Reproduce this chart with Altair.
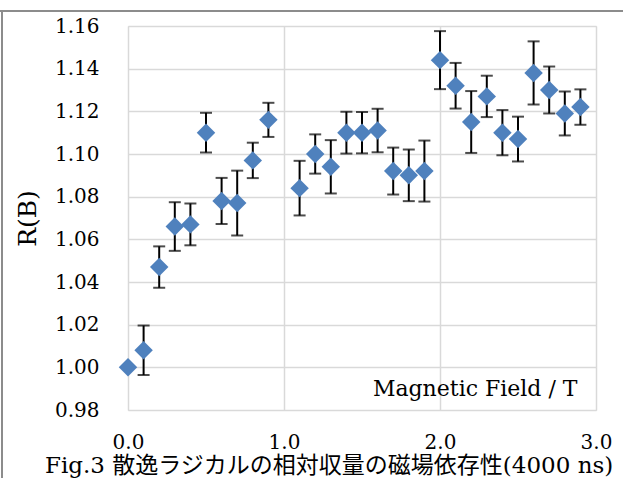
import altair as alt
import pandas as pd

# Magnetic field (T), relative yield R(B) and its uncertainty
field = [0.0, 0.1, 0.2, 0.3, 0.4, 0.5, 0.6, 0.7, 0.8, 0.9,
         1.1, 1.2, 1.3, 1.4, 1.5, 1.6, 1.7, 1.8, 1.9,
         2.0, 2.1, 2.2, 2.3, 2.4, 2.5, 2.6, 2.7, 2.8, 2.9]
ratio = [1.000, 1.008, 1.047, 1.066, 1.067, 1.110, 1.078, 1.077, 1.097, 1.116,
         1.084, 1.100, 1.094, 1.110, 1.110, 1.111, 1.092, 1.090, 1.092,
         1.144, 1.132, 1.115, 1.127, 1.110, 1.107, 1.138, 1.130, 1.119, 1.122]
error = [0.000, 0.0116, 0.0097, 0.0114, 0.0098, 0.0093, 0.0108, 0.0152, 0.0083, 0.0080,
         0.0128, 0.0092, 0.0125, 0.0098, 0.0097, 0.0102, 0.0110, 0.0121, 0.0143,
         0.0136, 0.0107, 0.0145, 0.0097, 0.0106, 0.0105, 0.0148, 0.0110, 0.0103, 0.0083]

y_ticks = [0.98, 1.00, 1.02, 1.04, 1.06, 1.08, 1.10, 1.12, 1.14, 1.16]
x_ticks = [0.0, 1.0, 2.0, 3.0]

caption = "Fig.3 散逸ラジカルの相対収量の磁場依存性(4000 ns)"
serif = "DejaVu Serif, Liberation Serif, Noto Sans CJK JP"

df = pd.DataFrame({"B": field, "R": ratio, "err": error})
df["lo"] = df["R"] - df["err"]
df["hi"] = df["R"] + df["err"]

x_enc = alt.X(
    "B:Q",
    scale=alt.Scale(domain=[0, 3], nice=False),
    axis=alt.Axis(
        values=x_ticks, format=".1f", title="Magnetic Field / T",
        labelFont=serif, labelFontSize=20, labelColor="black", labelPadding=22,
        labelFlush=False,
        titleFont=serif, titleFontSize=22, titleFontWeight="normal", titleColor="black",
        titleX=449, titleY=-15, titleAlign="right", titleBaseline="alphabetic",
        domain=False, ticks=False,
        grid=True, gridColor="#D9D9D9", gridWidth=1.5,
    ),
)
y_axis = alt.Axis(
    values=y_ticks, format=".2f", title="R(B)",
    labelFont=serif, labelFontSize=20, labelColor="black", labelPadding=29,
    labelFlush=False,
    titleFont=serif, titleFontSize=25, titleFontWeight="normal", titleColor="black",
    titleX=-101, titleY=192, titleAlign="center", titleBaseline="middle", titleAngle=-90,
    domain=False, ticks=False,
    grid=True, gridColor="#D9D9D9", gridWidth=1.5,
)
y_scale = alt.Scale(domain=[0.98, 1.16], nice=False, zero=False)

bars = alt.Chart(df).transform_filter("datum.err > 0").mark_errorbar(
    color="black", thickness=2,
    ticks=alt.MarkConfig(size=12, strokeWidth=2, color="black"),
).encode(
    x=x_enc,
    y=alt.Y("lo:Q", scale=y_scale, axis=y_axis),
    y2="hi:Q",
)

points = alt.Chart(df).mark_point(
    shape="diamond", filled=True, color="#4F81BD", opacity=1, size=340
).encode(
    x=alt.X("B:Q"),
    y=alt.Y("R:Q", scale=y_scale),
)

# Outer border of the figure area
one = pd.DataFrame({"k": [0]})
frame_top = alt.Chart(one).mark_rule(color="#8C8C8C", strokeWidth=2).encode(
    x=alt.value(-128), x2=alt.value(495), y=alt.value(-15)
)
frame_left = alt.Chart(one).mark_rule(color="#8C8C8C", strokeWidth=2).encode(
    x=alt.value(-126), y=alt.value(-15), y2=alt.value(452)
)

chart = alt.layer(bars, points, frame_top, frame_left).properties(
    width=468,
    height=384,
    autosize=alt.AutoSizeParams(type="none"),
    padding={"left": 128, "top": 26, "right": 27, "bottom": 68},
    title=alt.TitleParams(
        caption, orient="bottom", anchor="start", dx=46, offset=0, dy=-6,
        baseline="alphabetic",
        font=serif, fontSize=23, fontWeight="normal", color="black",
    ),
).configure_view(
    stroke="#878787", strokeWidth=2
).configure(background="white")

chart.save("out.html", embed_options={"renderer": "svg", "actions": False})
